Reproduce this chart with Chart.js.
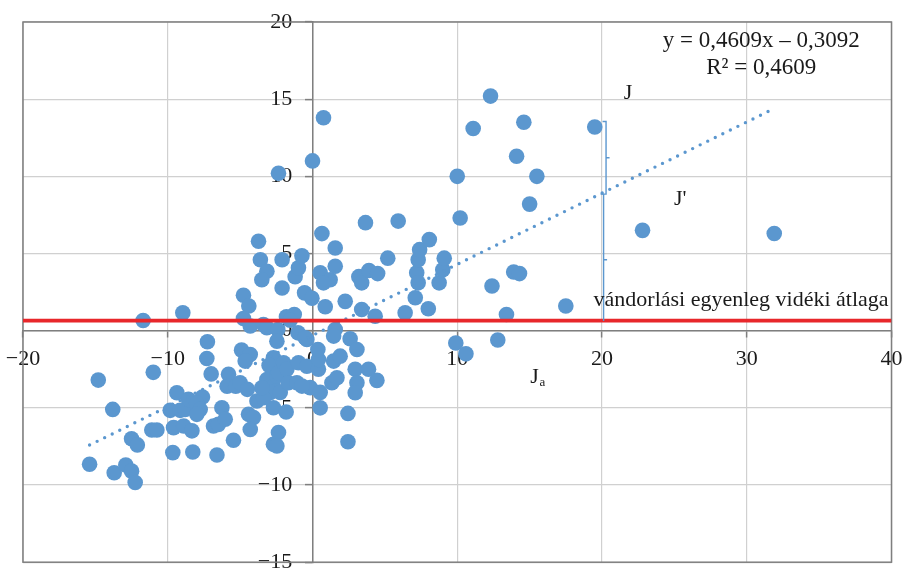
<!DOCTYPE html>
<html><head><meta charset="utf-8">
<script src="https://cdn.jsdelivr.net/npm/chart.js@4/dist/chart.umd.min.js"></script>
<style>html,body{margin:0;padding:0;background:#fff;}canvas{display:block;}</style>
</head><body>
<canvas id="c" width="902" height="570"></canvas>
<script>
// Ja (x) values of the scatter points
const jaValues = [
 -15.4,-14.8,-13.8,-13.7,-12.9,-12.5,-12.25,-12.5,-12.1,-11.7,-11.0,-11.1,-10.75,
 -9.6,-9.37,-9.83,-9.14,-8.96,-8.9,-8.8,-8.57,-8.33,-9.65,-8.27,-7.6,-8.0,-7.76,-7.99,
 -7.26,-7.3,-7.0,-6.6,-6.84,-6.5,-6.26,-6.03,-5.8,-5.9,-5.3,-5.0,-4.5,-5.46,
 -4.77,-4.4,-4.77,-4.3,-4.9,-4.3,-4.65,-4.42,-4.08,-4.3,-3.73,-3.6,-3.84,
 -3.15,-3.5,-3.39,-3.15,-2.4,-2.7,-3.0,-3.15,-2.7,-2.46,-2.9,-2.23,-2.7,-2.35,-2.7,-2.46,
 -2.46,-2.1,-2.1,-2.35,-3.38,-3.5,-2.35,
 -1.8,-1.26,-1.54,-1.2,-0.97,-0.73,-0.55,-0.04,-1.0,-0.39,-2.0,-1.77,-0.97,-0.39,
 -1.66,-1.08,-0.16,-0.73,-1.82,-0.5,0.0,
 0.76,0.65,1.57,1.57,0.53,1.22,0.76,0.88,1.57,0.41,0.41,0.53,0.53,0.37,1.46,1.91,1.34,1.69,1.46,
 2.26,2.6,3.07,2.95,3.87,3.07,2.95,4.45,2.45,2.45,3.66,3.2,3.4,3.9,4.5,3.4,4.33,5.2,
 5.92,6.4,7.1,7.2,7.3,7.3,7.4,8.07,8.0,8.75,9.0,9.1,9.9,10.6,10.0,10.2,
 11.1,12.3,14.6,14.1,15.5,15.0,13.9,14.3,12.4,13.4,12.8,17.5,19.5,22.8,31.9
];
// J (y) values of the scatter points
const jValues = [
 -8.65,-3.2,-5.1,-9.2,-8.7,-9.1,-9.84,-7.0,-7.4,0.66,-2.7,-6.43,-6.43,
 -6.28,-4.02,-5.16,-5.16,1.16,-6.18,-5.1,-4.45,-6.49,-7.9,-7.86,-4.3,-4.7,-5.1,-5.42,
 -0.72,-1.8,-2.8,-8.05,-6.18,-6.07,-5.0,-5.74,-2.83,-3.6,-3.6,-3.37,-3.8,-7.1,
 2.3,1.6,0.79,0.3,-1.26,-1.54,-1.97,-5.42,-5.63,-6.4,5.79,4.6,-4.56,
 3.85,3.3,0.4,0.19,0.08,-1.75,-2.25,-3.16,-3.6,-2.94,-4.0,-4.0,-4.99,-6.6,-7.36,-7.47,
 -0.68,4.6,2.77,-2.72,-4.34,-3.7,10.2,
 0.9,1.05,0.68,3.5,4.07,4.86,2.45,2.1,-0.14,-0.57,-2.08,-2.5,-2.08,-2.3,
 -3.37,-3.37,-3.69,-3.59,-5.27,-0.46,11.0,
 13.8,6.29,5.36,4.17,3.75,3.3,3.1,1.55,0.08,-2.5,-1.86,-4.0,-5.0,-1.22,-1.97,-1.65,-3.37,-3.05,-0.35,
 1.9,-0.52,-1.22,-2.5,-2.5,-3.37,-4.02,-3.22,-5.36,-7.2,7.0,3.5,3.1,3.9,3.7,1.37,0.94,4.7,
 7.1,1.16,2.13,3.75,3.1,4.6,5.25,5.9,1.42,3.1,3.95,4.7,-0.8,-1.5,10.0,7.3,
 13.1,15.2,13.5,11.3,10.0,8.2,3.8,3.7,2.9,1.05,-0.6,1.6,13.2,6.5,6.3
];
// linear trendline end points
const trendX = [-15.4, 31.6];
const trendY = [-7.41, 14.26];
// regional average of migration balance (red line)
const avgX = [-20, 40];
const avgY = [0.65, 0.65];
// axis ticks
const xTicks = [-20, -10, 0, 10, 20, 30, 40];
const yTicks = [-15, -10, -5, 0, 5, 10, 15, 20];
// texts
const equationText = 'y = 0,4609x \u2013 0,3092';
const r2Text = 'R\u00B2 = 0,4609';
const avgLabel = 'vándorlási egyenleg vidéki átlaga';
const xTitleMain = 'J';
const xTitleSub = 'a';
const labelJ = 'J';
const labelJp = "J'";

const FONT = '"Liberation Serif", "Times New Roman", serif';
const TEXT = '#1a1a1a';
const BLUE = '#5b97cf';

const zeroPad = s => { s.paddingLeft = 0; s.paddingRight = 0; s.paddingTop = 0; s.paddingBottom = 0; };
const fmt = v => (v < 0 ? '\u2212' + Math.abs(v) : String(v));

const points = jaValues.map((v, i) => ({x: v, y: jValues[i]}));
const trend = trendX.map((v, i) => ({x: v, y: trendY[i]}));
const avg = avgX.map((v, i) => ({x: v, y: avgY[i]}));

const annot = {
  id: 'annot',
  beforeDatasetsDraw(chart) {
    const {ctx, chartArea: a} = chart;
    ctx.save();
    ctx.strokeStyle = '#7f7f7f';
    ctx.lineWidth = 1.5;
    ctx.strokeRect(a.left, a.top, a.right - a.left, a.bottom - a.top);
    ctx.restore();
  },
  afterDatasetsDraw(chart) {
    const {ctx, scales: {x, y}} = chart;
    ctx.save();
    // brackets
    ctx.strokeStyle = BLUE;
    ctx.lineWidth = 1.4;
    const X1 = x.getPixelForValue(20.28), X2 = x.getPixelForValue(20.11);
    const yTop = y.getPixelForValue(13.55), yMid = y.getPixelForValue(8.85), yBot = y.getPixelForValue(0.62);
    const t1 = y.getPixelForValue(11.2), t2 = y.getPixelForValue(4.6);
    ctx.beginPath();
    ctx.moveTo(X1 - 3.5, yTop); ctx.lineTo(X1, yTop); ctx.lineTo(X1, yMid); ctx.lineTo(X2, yMid);
    ctx.lineTo(X2, yBot);
    ctx.moveTo(X1, t1); ctx.lineTo(X1 + 3.5, t1);
    ctx.moveTo(X2, t2); ctx.lineTo(X2 + 3.5, t2);
    ctx.moveTo(X2 - 3, yMid); ctx.lineTo(X2, yMid);
    ctx.stroke();
    // texts
    ctx.fillStyle = TEXT;
    ctx.font = '23px ' + FONT;
    ctx.textAlign = 'center';
    ctx.textBaseline = 'middle';
    ctx.fillText(equationText, x.getPixelForValue(31.0), y.getPixelForValue(18.74));
    ctx.fillText(r2Text, x.getPixelForValue(31.0), y.getPixelForValue(17.02));
    ctx.font = '22px ' + FONT;
    ctx.fillText(labelJ, x.getPixelForValue(21.8), y.getPixelForValue(15.4));
    ctx.fillText(labelJp, x.getPixelForValue(25.4), y.getPixelForValue(8.5));
    ctx.textAlign = 'right';
    ctx.textBaseline = 'alphabetic';
    ctx.fillText(avgLabel, x.getPixelForValue(39.8), y.getPixelForValue(1.57));
    ctx.textAlign = 'left';
    const tx = x.getPixelForValue(15.05), ty = y.getPixelForValue(-3.37);
    ctx.fillText(xTitleMain, tx, ty);
    const w = ctx.measureText(xTitleMain).width;
    ctx.font = '13px ' + FONT;
    ctx.fillText(xTitleSub, tx + w + 0.5, ty + 3);
    ctx.restore();
  }
};

new Chart(document.getElementById('c'), {
  data: {
    datasets: [
      {type: 'scatter', data: points, backgroundColor: BLUE, borderWidth: 0, pointRadius: 7.8, pointHoverRadius: 7.8, order: 3},
      {type: 'line', data: trend, borderColor: BLUE, borderWidth: 3.4, borderDash: [0, 8.4], borderCapStyle: 'round', pointRadius: 0, fill: false, order: 2},
      {type: 'line', data: avg, borderColor: '#e8272b', borderWidth: 3.6, pointRadius: 0, fill: false, order: 1}
    ]
  },
  options: {
    responsive: false,
    animation: false,
    devicePixelRatio: 1,
    layout: {padding: {left: 23, right: 10.5, top: 22, bottom: 6.7}},
    plugins: {legend: {display: false}, tooltip: {enabled: false}},
    scales: {
      x: {
        type: 'linear', min: -20, max: 40, position: {y: 0},
        afterBuildTicks: s => { s.ticks = xTicks.map(v => ({value: v})); },
        afterFit: zeroPad,
        grid: {color: '#d0d0d0', lineWidth: 1.2, tickColor: '#7f7f7f', tickWidth: 1.5, tickLength: 6},
        border: {color: '#7f7f7f', width: 1.5},
        ticks: {display: false}
      },
      y: {
        type: 'linear', min: -15, max: 20, position: {x: 0},
        afterBuildTicks: s => { s.ticks = yTicks.map(v => ({value: v})); },
        afterFit: zeroPad,
        grid: {color: '#d0d0d0', lineWidth: 1.2, tickColor: '#7f7f7f', tickWidth: 1.5, tickLength: 7},
        border: {color: '#7f7f7f', width: 1.5},
        ticks: {display: false}
      },
      x2: {
        type: 'linear', axis: 'x', min: -20, max: 40, position: {y: 0}, z: 1,
        afterBuildTicks: s => { s.ticks = xTicks.map(v => ({value: v})); },
        afterFit: zeroPad,
        grid: {display: false, drawTicks: false},
        border: {display: false},
        ticks: {padding: 15.6, color: TEXT, font: {family: FONT, size: 22}, callback: fmt, maxRotation: 0, autoSkip: false}
      },
      y2: {
        type: 'linear', axis: 'y', min: -15, max: 20, position: {x: -1.40}, z: 1,
        afterBuildTicks: s => { s.ticks = yTicks.map(v => ({value: v})); },
        afterFit: zeroPad,
        grid: {display: false, drawTicks: false},
        border: {display: false},
        ticks: {padding: 0, color: TEXT, font: {family: FONT, size: 22}, callback: fmt, autoSkip: false}
      }
    }
  },
  plugins: [annot]
});
</script>
</body></html>
